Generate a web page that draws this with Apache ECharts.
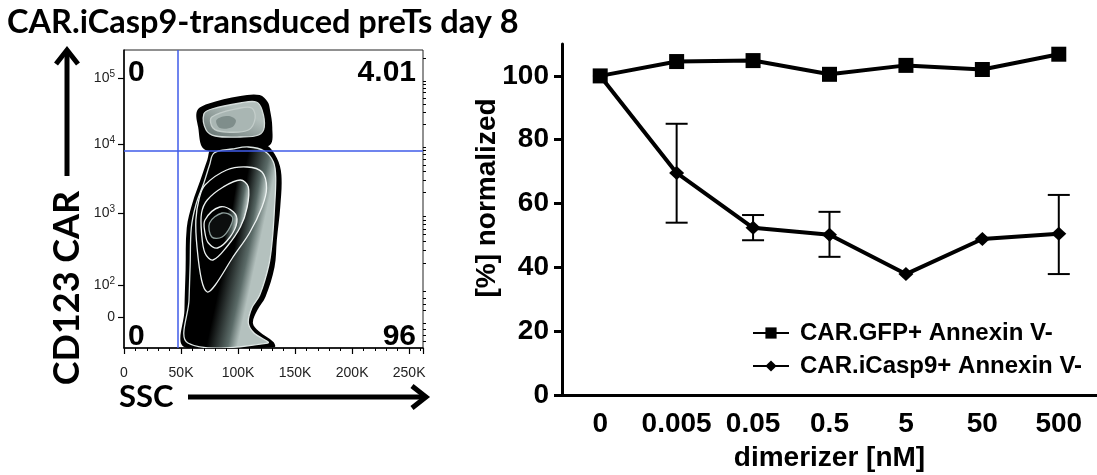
<!DOCTYPE html>
<html>
<head>
<meta charset="utf-8">
<script src="https://cdn.jsdelivr.net/npm/echarts@6/dist/echarts.min.js"></script>
<style>
html, body { margin: 0; padding: 0; background: #fff; }
#main { width: 1097px; height: 475px; }
</style>
</head>
<body>
<div id="main"></div>
<script>
// right panel - dimerizer titration
var doses = ['0', '0.005', '0.05', '0.5', '5', '50', '500'];
var gfpValues = [100, 104.5, 104.8, 100.5, 103.3, 102, 106.8];
var casp9Values = [100, 69.6, 52.4, 50.2, 37.9, 48.9, 50.5];
var casp9Low = [null, 54, 48.5, 43.3, null, null, 37.9];
var casp9High = [null, 85, 56.4, 57.4, null, null, 62.7];
var pctTicks = [0, 20, 40, 60, 80, 100];

// left panel - flow plot, SSC in K, CD123 CAR in display channels (biex)
var sscTicks = [0, 50, 100, 150, 200, 250];
var carTickChannels = [0, 32, 104, 173, 239];
var carTickLabels = ['0', '10{s|2}', '10{s|3}', '10{s|4}', '10{s|5}'];
var gateSSC = 47.4;
var gateCAR = 166;
var quadrantLabels = ['0', '4.01', '0', '96'];

// contour outlines [SSC K, channel]
var blobOuter = [[64,206],[73,213],[102,221],[119,222],[126,215],[128,207],[130,190],[128,172],[108,168],[90,166],[70,168],[65,190]];
var blobMid = [[70,203],[77,208],[102,214],[116,215],[121,207],[123,190],[118,182],[102,180],[80,181],[72,187]];
var blobInner = [[77,200],[102,209],[112,209],[115,199],[109,187],[89,185],[78,189]];
var blobCore = [[81,197],[91,201],[98,197],[95,190],[84,189]];
var bodyOuter = [[77,170],[93,174],[108,177],[125,172],[134,159],[138,142],[137,110],[134,77],[132,50],[124,20],[117,7],[113,-6],[118,-14],[131,-25],[132,-30],[53,-30],[53,7],[54,47],[55,89],[60,114],[67,137],[73,157]];
var bodyBand = [[79,164],[95,168],[109,170],[123,166],[131,155],[133,140],[132,110],[130,77],[127,52],[119,22],[112,9],[109,-6],[114,-16],[126,-26],[56,-26],[57,17],[58,52],[59,89],[63,112],[70,134],[75,152]];
var bodyRing1 = [[71,132],[90,147],[108,150],[121,145],[125,129],[121,110],[110,84],[95,59],[80,32],[73,25],[68,37],[64,70],[63,97],[66,119]];
var bodyRing2 = [[73,117],[87,130],[102,137],[109,130],[108,110],[102,90],[90,70],[78,57],[71,64],[68,84],[68,104]];
var bodyRing3 = [[71,97],[84,110],[96,105],[99,95],[93,80],[82,69],[74,74],[71,84]];
var bodyCore = [[75,94],[86,104],[95,100],[93,90],[86,80],[77,80]];

function sideFill(start, edge) {
    return {
        type: 'linear', x: 0, y: 0, x2: 1, y2: 0.1,
        colorStops: [
            { offset: 0, color: '#000' },
            { offset: start, color: '#000' },
            { offset: 0.9, color: edge },
            { offset: 1, color: '#b4c1be' }
        ]
    };
}

var contours = [
    { pts: blobOuter, fill: '#000', stroke: null },
    { pts: blobMid, fill: { type: 'linear', x: 0, y: 1, x2: 0.3, y2: 0, colorStops: [{ offset: 0, color: '#5f6d6b' }, { offset: 1, color: '#b3bfbc' }] }, stroke: '#d5dddb' },
    { pts: blobInner, fill: '#a9b6b3', stroke: '#c3cdca' },
    { pts: blobCore, fill: '#7f8e8b', stroke: null },
    { pts: bodyOuter, fill: '#000', stroke: null },
    { pts: bodyBand, fill: sideFill(0.68, '#5b6b68'), stroke: '#dfe7e5' },
    { pts: bodyRing1, fill: sideFill(0.72, '#566663'), stroke: '#eef3f2' },
    { pts: bodyRing2, fill: sideFill(0.72, '#566663'), stroke: '#eef3f2' },
    { pts: bodyRing3, fill: sideFill(0.72, '#566663'), stroke: '#eef3f2' },
    { pts: bodyCore, fill: '#0c0e0e', stroke: '#8fa09d' }
];

// log minor ticks between decades
var carMinor = [];
for (var d = 1; d < carTickChannels.length - 1; d++) {
    for (var k = 2; k <= 9; k++) {
        carMinor.push(carTickChannels[d] + Math.log10(k) * (carTickChannels[d + 1] - carTickChannels[d]));
    }
}
carMinor.push(carTickChannels[4] + Math.log10(2) * (carTickChannels[4] - carTickChannels[3]));
for (var m = 1; m < 5; m++) {
    carMinor.push(m * carTickChannels[1] / 5);
    carMinor.push(-m * 6);
}

var chart = echarts.init(document.getElementById('main'));

var option = {
    animation: false,
    backgroundColor: '#fff',
    grid: [
        { left: 124, top: 50, width: 299, height: 298, show: true, borderColor: '#222', borderWidth: 1, backgroundColor: 'transparent', outerBoundsMode: 'none', containLabel: false },
        { left: 562, top: 44, width: 535, height: 351, outerBoundsMode: 'none', containLabel: false }
    ],
    xAxis: [
        {
            gridIndex: 0, type: 'value', min: 0, max: 262.144, interval: 50,
            axisLine: { show: true, onZero: false, lineStyle: { color: '#000', width: 1.5 } },
            axisTick: { show: true, length: 6, lineStyle: { color: '#000', width: 1.2 } },
            minorTick: { show: true, splitNumber: 5, length: 3, lineStyle: { color: '#000', width: 1 } },
            splitLine: { show: false },
            axisLabel: {
                margin: 18, color: '#222', fontSize: 14, fontFamily: 'Liberation Sans',
                customValues: sscTicks,
                formatter: function (v) { return v === 0 ? '0' : v + 'K'; }
            }
        },
        {
            gridIndex: 1, type: 'category', data: doses, boundaryGap: true,
            axisLine: { lineStyle: { color: '#000', width: 3 } },
            axisTick: { alignWithLabel: true, length: 8, lineStyle: { color: '#000', width: 3 } },
            axisLabel: { interval: 0, margin: 15, color: '#000', fontSize: 28, fontWeight: 'bold', fontFamily: 'Liberation Sans' },
            name: 'dimerizer [nM]', nameLocation: 'middle', nameGap: 49,
            nameTextStyle: { color: '#000', fontSize: 28, fontWeight: 'bold', fontFamily: 'Liberation Sans' }
        }
    ],
    yAxis: [
        {
            gridIndex: 0, type: 'value', min: -31, max: 267,
            axisLine: { show: true, onZero: false, lineStyle: { color: '#000', width: 1.5 } },
            axisTick: { show: true, length: 6, customValues: carTickChannels, lineStyle: { color: '#000', width: 1.2 } },
            splitLine: { show: false },
            axisLabel: {
                margin: 9, color: '#222', fontSize: 14, fontFamily: 'Liberation Sans',
                customValues: carTickChannels,
                formatter: function (v) {
                    var i = carTickChannels.indexOf(v);
                    return i >= 0 ? carTickLabels[i] : '';
                },
                rich: { s: { fontSize: 10, verticalAlign: 'top', padding: [0, 0, 7, 0], color: '#222', fontFamily: 'Liberation Sans' } }
            }
        },
        {
            gridIndex: 0, type: 'value', min: -31, max: 267,
            axisLine: { show: false, onZero: false },
            axisTick: { show: true, length: 3, customValues: carMinor, lineStyle: { color: '#000', width: 1 } },
            axisLabel: { show: false },
            splitLine: { show: false }
        },
        {
            gridIndex: 1, type: 'value', min: 0, max: 110,
            axisLine: { show: true, lineStyle: { color: '#000', width: 3 } },
            axisTick: { show: true, length: 8, customValues: pctTicks, lineStyle: { color: '#000', width: 3 } },
            splitLine: { show: false },
            axisLabel: { margin: 13, customValues: pctTicks, color: '#000', fontSize: 28, fontWeight: 'bold', fontFamily: 'Liberation Sans' }
        }
    ],
    legend: {
        orient: 'vertical', left: 747, top: 316, itemGap: 9,
        itemWidth: 36, itemHeight: 14,
        data: ['CAR.GFP+ Annexin V-', 'CAR.iCasp9+ Annexin V-'],
        textStyle: { color: '#000', fontSize: 24, fontWeight: 'bold', fontFamily: 'Liberation Sans', padding: [0, 0, 0, 6] }
    },
    graphic: [
        { type: 'text', x: 7, y: 23, style: { text: 'CAR.iCasp9-transduced preTs day 8', fontSize: 32.5, fontWeight: 'bold', fontFamily: 'Lato', fill: '#000', verticalAlign: 'middle' } },
        { type: 'polyline', shape: { points: [[67, 176], [67, 51]] }, style: { stroke: '#000', lineWidth: 5, fill: null } },
        { type: 'polyline', shape: { points: [[56, 64], [67, 50], [78, 64]] }, style: { stroke: '#000', lineWidth: 5, fill: null, lineJoin: 'miter' } },
        { type: 'text', x: 67, y: 288, rotation: Math.PI / 2, style: { text: 'CD123 CAR', fontSize: 36, fontWeight: 'bold', fontFamily: 'Lato', fill: '#000', align: 'center', verticalAlign: 'middle' } },
        { type: 'text', x: 119, y: 397, style: { text: 'SSC', fontSize: 31, fontWeight: 'bold', fontFamily: 'Lato', fill: '#000', align: 'left', verticalAlign: 'middle' } },
        { type: 'polyline', shape: { points: [[188, 397], [425, 397]] }, style: { stroke: '#000', lineWidth: 5, fill: null } },
        { type: 'polyline', shape: { points: [[412, 386], [426, 397], [412, 408]] }, style: { stroke: '#000', lineWidth: 5, fill: null, lineJoin: 'miter' } },
        { type: 'text', x: 128, y: 73, style: { text: quadrantLabels[0], fontSize: 30, fontWeight: 'bold', fontFamily: 'Liberation Sans', fill: '#000', verticalAlign: 'middle' } },
        { type: 'text', x: 416, y: 73, style: { text: quadrantLabels[1], fontSize: 30, fontWeight: 'bold', fontFamily: 'Liberation Sans', fill: '#000', align: 'right', verticalAlign: 'middle' } },
        { type: 'text', x: 128, y: 337, style: { text: quadrantLabels[2], fontSize: 30, fontWeight: 'bold', fontFamily: 'Liberation Sans', fill: '#000', verticalAlign: 'middle' } },
        { type: 'text', x: 416, y: 337, style: { text: quadrantLabels[3], fontSize: 30, fontWeight: 'bold', fontFamily: 'Liberation Sans', fill: '#000', align: 'right', verticalAlign: 'middle' } },
        { type: 'text', x: 487, y: 198, rotation: Math.PI / 2, style: { text: '[%] normalized', fontSize: 28, fontWeight: 'bold', fontFamily: 'Liberation Sans', fill: '#000', align: 'center', verticalAlign: 'middle' } }
    ],
    series: [
        {
            type: 'custom', xAxisIndex: 0, yAxisIndex: 0, clip: true, silent: true,
            data: contours.map(function (c) { return c.pts[0]; }),
            renderItem: function (params, api) {
                var c = contours[params.dataIndex];
                var pts = c.pts.map(function (p) { return api.coord(p); });
                return {
                    type: 'polygon',
                    shape: { points: pts, smooth: 0.35 },
                    style: { fill: c.fill, stroke: c.stroke || null, lineWidth: c.stroke ? 1.3 : 0 }
                };
            },
            z: 2
        },
        {
            type: 'line', xAxisIndex: 0, yAxisIndex: 0, symbol: 'none', data: [], silent: true,
            markLine: {
                silent: true, symbol: 'none', animation: false,
                lineStyle: { color: '#3f5be8', width: 1.5, type: 'solid' },
                label: { show: false },
                data: [{ xAxis: gateSSC }, { yAxis: gateCAR }]
            },
            z: 3
        },
        {
            name: 'CAR.GFP+ Annexin V-', type: 'line', xAxisIndex: 1, yAxisIndex: 2,
            data: gfpValues, symbol: 'rect', symbolSize: 15,
            lineStyle: { color: '#000', width: 4 }, itemStyle: { color: '#000' }, z: 4
        },
        {
            name: 'CAR.iCasp9+ Annexin V-', type: 'line', xAxisIndex: 1, yAxisIndex: 2,
            data: casp9Values, symbol: 'diamond', symbolSize: [15, 14],
            lineStyle: { color: '#000', width: 4 }, itemStyle: { color: '#000' }, z: 4
        },
        {
            type: 'custom', xAxisIndex: 1, yAxisIndex: 2, silent: true,
            data: doses.map(function (d, i) { return [i, casp9Low[i], casp9High[i]]; }).filter(function (r) { return r[1] !== null; }),
            renderItem: function (params, api) {
                var lo = api.coord([api.value(0), api.value(1)]);
                var hi = api.coord([api.value(0), api.value(2)]);
                var w = 11;
                var st = { stroke: '#000', lineWidth: 2, fill: null };
                return {
                    type: 'group',
                    children: [
                        { type: 'line', shape: { x1: lo[0], y1: lo[1], x2: hi[0], y2: hi[1] }, style: st },
                        { type: 'line', shape: { x1: lo[0] - w, y1: lo[1], x2: lo[0] + w, y2: lo[1] }, style: st },
                        { type: 'line', shape: { x1: hi[0] - w, y1: hi[1], x2: hi[0] + w, y2: hi[1] }, style: st }
                    ]
                };
            },
            z: 3
        }
    ]
};

chart.setOption(option);
</script>
</body>
</html>
